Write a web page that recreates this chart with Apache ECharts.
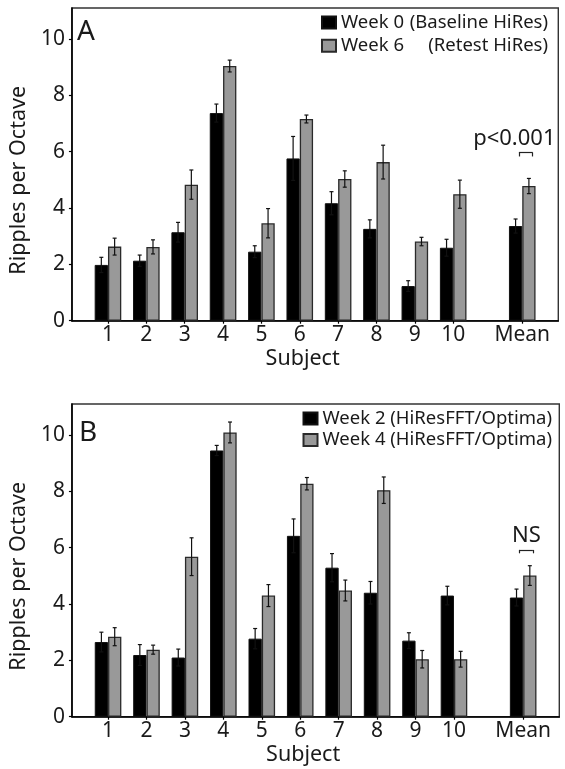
<!DOCTYPE html>
<html><head><meta charset="utf-8">
<script src="https://cdn.jsdelivr.net/npm/echarts@6/dist/echarts.min.js"></script>
<style>html,body{margin:0;padding:0;background:#fff}#c{width:565px;height:769px}</style>
</head><body><div id="c"></div>
<script>
// ---- data ----
const subjects = ['1','2','3','4','5','6','7','8','9','10','Mean'];
const subjectPos = [1,2,3,4,5,6,7,8,9,10,11.8];
const yTicks = [0,2,4,6,8,10];

const week0 = [1.98, 2.13, 3.14, 7.37, 2.45, 5.76, 4.17, 3.26, 1.23, 2.59, 3.36];
const week0Err = [0.27, 0.20, 0.35, 0.32, 0.21, 0.78, 0.41, 0.32, 0.19, 0.30, 0.25];
const week6 = [2.63, 2.62, 4.83, 9.04, 3.46, 7.16, 5.03, 5.63, 2.81, 4.49, 4.78];
const week6Err = [0.30, 0.25, 0.52, 0.21, 0.52, 0.14, 0.29, 0.60, 0.15, 0.50, 0.27];

const week2 = [2.65, 2.19, 2.10, 9.45, 2.77, 6.42, 5.29, 4.40, 2.70, 4.30, 4.23];
const week2Err = [0.35, 0.37, 0.30, 0.18, 0.36, 0.60, 0.50, 0.40, 0.28, 0.33, 0.30];
const week4 = [2.84, 2.38, 5.68, 10.09, 4.30, 8.27, 4.48, 8.04, 2.04, 2.04, 5.01];
const week4Err = [0.32, 0.16, 0.67, 0.37, 0.39, 0.22, 0.37, 0.47, 0.31, 0.28, 0.35];

const nameA0 = 'Week 0 (Baseline HiRes)';
const nameA6 = 'Week 6 (Retest HiRes)';
const nameB2 = 'Week 2 (HiResFFT/Optima)';
const nameB4 = 'Week 4 (HiResFFT/Optima)';
// ---- end data ----

const FONT = '"Noto Sans", "DejaVu Sans", sans-serif';
const TXT = '#1a1a1a';
const BARW = 13.3;
const LEGFS = 18.5;

const cv = document.createElement('canvas').getContext('2d');
cv.font = LEGFS + 'px "Noto Sans"';
const wA = Math.ceil(cv.measureText('Week 0 ').width);
const wB = Math.ceil(cv.measureText('(Baseline HiRes)').width);

function labelFor(v){
  let best = 0, d = 1e9;
  subjectPos.forEach((p,i)=>{ const dd = Math.abs(p - v); if (dd < d){ d = dd; best = i; } });
  return subjects[best];
}

function xAxis(gi){
  return {
    type:'value', gridIndex: gi, min: 0.06, max: 12.74,
    splitLine:{show:false},
    axisLine:{show:true, onZero:false, lineStyle:{color:'#000', width:1.6}},
    axisTick:{show:true, customValues: subjectPos, length:3, lineStyle:{color:'#000', width:1.2}},
    axisLabel:{customValues: subjectPos, formatter: v => labelFor(v), color: TXT, fontFamily: FONT, fontSize: 21, margin: 4},
    name:'Subject', nameLocation:'middle', nameGap: 27,
    nameTextStyle:{color: TXT, fontFamily: FONT, fontSize: 21.5, padding:[0,25,0,0]}
  };
}
function yAxis(gi){
  return {
    type:'value', gridIndex: gi, min: 0, max: 11.1,
    splitLine:{show:false},
    axisLine:{show:true, lineStyle:{color:'#000', width:1.6}},
    axisTick:{show:true, customValues: yTicks, length:3, lineStyle:{color:'#000', width:1.2}},
    axisLabel:{customValues: yTicks, color: TXT, fontFamily: FONT, fontSize: 21, margin: 7},
    name:'Ripples per Octave', nameLocation:'middle', nameGap: 38,
    nameTextStyle:{color: TXT, fontFamily: FONT, fontSize: 21.5, padding:[0,32,0,0]}
  };
}

function barSeries(name, gi, vals, dark, extra){
  const s = {
    type:'bar', name, xAxisIndex: gi, yAxisIndex: gi,
    data: subjectPos.map((x,i)=>[x, vals[i]]),
    barWidth: BARW, barGap: '0%',
    itemStyle: dark ? {color:'#000', borderColor:'#111', borderWidth:1}
                    : {color:'#999', borderColor:'#2a2a2a', borderWidth:1.3},
    emphasis:{disabled:true}, z: 2
  };
  return Object.assign(s, extra || {});
}
function errSeries(gi, vals, errs, offset){
  return {
    type:'custom', xAxisIndex: gi, yAxisIndex: gi, silent:true, z: 5,
    data: subjectPos.map((x,i)=>[x, vals[i]-errs[i], vals[i]+errs[i]]),
    encode:{x:0, y:[1,2]},
    renderItem(params, api){
      const lo = api.coord([api.value(0), api.value(1)]);
      const hi = api.coord([api.value(0), api.value(2)]);
      const x = lo[0] + offset;
      const cw = 2;
      const st = {stroke:'#111', lineWidth:1.2};
      return {type:'group', children:[
        {type:'line', shape:{x1:x, y1:lo[1], x2:x, y2:hi[1]}, style:st},
        {type:'line', shape:{x1:x-cw, y1:lo[1], x2:x+cw, y2:lo[1]}, style:st},
        {type:'line', shape:{x1:x-cw, y1:hi[1], x2:x+cw, y2:hi[1]}, style:st}
      ]};
    }
  };
}
function bracket(xc, yTop, yBot, text, textY, textX){
  const a = xc - 0.18, b = xc + 0.18;
  return {
    markLine:{
      silent:true, symbol:['none','none'], label:{show:false},
      lineStyle:{color:'#222', width:1.2, type:'solid'}, emphasis:{disabled:true},
      data:[
        [{coord:[a, yTop]},{coord:[b, yTop]}],
        [{coord:[a, yTop]},{coord:[a, yBot]}],
        [{coord:[b, yTop]},{coord:[b, yBot]}]
      ]
    },
    markPoint:{
      silent:true, symbol:'rect', symbolSize:0,
      label:{show:true, position:'inside', formatter:text, color:TXT, fontFamily:FONT, fontSize:22},
      data:[{coord:[textX, textY]}]
    }
  };
}

const chart = echarts.init(document.getElementById('c'), null, {renderer:'canvas'});
chart.setOption({
  animation:false,
  textStyle:{fontFamily: FONT},
  grid:[
    {left:70, right:6.7, top:8, height:312.7, show:true, borderColor:'#333', borderWidth:1.4},
    {left:70.7, right:5.7, top:404, height:312.7, show:true, borderColor:'#333', borderWidth:1.4}
  ],
  xAxis:[xAxis(0), xAxis(1)],
  yAxis:[yAxis(0), yAxis(1)],
  legend:[
    {data:[nameA0, nameA6], orient:'vertical', right:12, top:8, itemWidth:14, itemHeight:12, itemGap:4.3,
     icon:'rect', selectedMode:false,
     formatter: n => n === nameA0 ? '{a|Week 0 }{b|(Baseline HiRes)}' : '{a|Week 6}{b|(Retest HiRes)}',
     textStyle:{color:TXT, fontFamily:FONT, fontSize:LEGFS, lineHeight:19,
       rich:{a:{width:wA, fontSize:LEGFS, fontFamily:FONT, color:TXT, lineHeight:19},
             b:{width:wB, align:'right', fontSize:LEGFS, fontFamily:FONT, color:TXT, lineHeight:19}}}},
    {data:[nameB2, nameB4], orient:'vertical', right:8, top:404, itemWidth:14, itemHeight:12, itemGap:2.5,
     icon:'rect', selectedMode:false,
     textStyle:{color:TXT, fontFamily:FONT, fontSize:LEGFS, lineHeight:19}}
  ],
  graphic:[
    {type:'text', left:77, top:18, style:{text:'A', font:'28px "Noto Sans"', fill:TXT}},
    {type:'text', left:79, top:419, style:{text:'B', font:'28px "Noto Sans"', fill:TXT}}
  ],
  series:[
    barSeries(nameA0, 0, week0, true),
    barSeries(nameA6, 0, week6, false, bracket(11.72, 5.97, 5.83, 'p<0.001', 6.45, 11.42)),
    errSeries(0, week0, week0Err, -BARW/2),
    errSeries(0, week6, week6Err, BARW/2),
    barSeries(nameB2, 1, week2, true),
    barSeries(nameB4, 1, week4, false, bracket(11.7, 5.92, 5.80, 'NS', 6.44, 11.71)),
    errSeries(1, week2, week2Err, -BARW/2),
    errSeries(1, week4, week4Err, BARW/2)
  ]
});
</script></body></html>
